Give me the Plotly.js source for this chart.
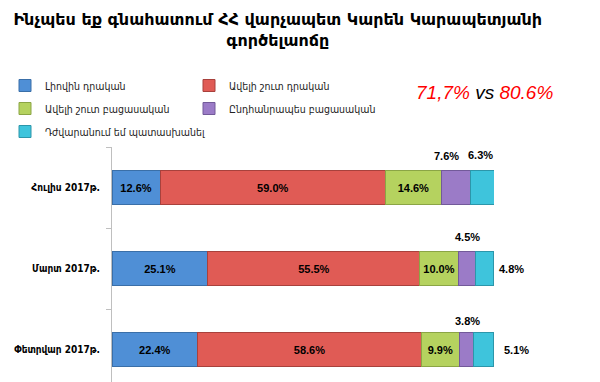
<!DOCTYPE html>
<html>
<head>
<meta charset="utf-8">
<script src="https://cdn.plot.ly/plotly-3.0.1.min.js"></script>
<style>html,body{margin:0;padding:0;background:#fff;}#chart{width:600px;height:382px;}</style>
</head>
<body>
<div id="chart"></div>
<script>
const categories = ["Հուլիս 2017թ.", "Մարտ 2017թ.", "Փետրվար 2017թ."];
const seriesNames = ["Լիովին դրական", "Ավելի շուտ դրական", "Ավելի շուտ բացասական", "Ընդհանրապես բացասական", "Դժվարանում եմ պատասխանել"];
const fullyPositive = [12.6, 25.1, 22.4];
const ratherPositive = [59.0, 55.5, 58.6];
const ratherNegative = [14.6, 10.0, 9.9];
const fullyNegative = [7.6, 4.5, 3.8];
const hardToAnswer = [6.3, 4.8, 5.1];
const titleText = "Ինչպես եք գնահատում ՀՀ վարչապետ Կարեն Կարապետյանի<br>գործելաոճը";
const compareLeft = "71,7%";
const compareRight = "80.6%";

const series = [fullyPositive, ratherPositive, ratherNegative, fullyNegative, hardToAnswer];
const colors = ["#4F8FD6", "#E05B55", "#B5D25F", "#9B7BC7", "#3EC4DC"];
const lineColors = ["#3A6FA8", "#A8413C", "#8BA545", "#725A99", "#2C96AA"];
const legendOf = ["legend", "legend2", "legend", "legend2", "legend"];
const showInside = [true, true, true, false, false];
const labelFont = {family: "Liberation Sans, Arial, sans-serif", size: 11, color: "#000"};

const traces = series.map((vals, i) => ({
  type: "bar",
  orientation: "h",
  name: seriesNames[i],
  y: categories,
  x: vals,
  legend: legendOf[i],
  legendgroup: "g" + i,
  marker: {color: colors[i], line: {color: lineColors[i], width: 1}},
  texttemplate: showInside[i] ? "<b>%{x:.1f}%</b>" : "",
  textposition: showInside[i] ? "inside" : "none",
  insidetextanchor: "middle",
  constraintext: "none",
  textangle: 0,
  textfont: labelFont,
  hoverinfo: "skip"
}));

// outside labels for the two small segments, positioned from the data
const annotations = [];
categories.forEach((cat, j) => {
  const startPurple = fullyPositive[j] + ratherPositive[j] + ratherNegative[j];
  const midPurple = startPurple + fullyNegative[j] / 2;
  const endAll = startPurple + fullyNegative[j] + hardToAnswer[j];
  const midCyan = startPurple + fullyNegative[j] + hardToAnswer[j] / 2;
  annotations.push({
    x: midPurple, y: cat, xref: "x", yref: "y",
    text: "<b>" + fullyNegative[j].toFixed(1) + "%</b>",
    showarrow: false, font: labelFont,
    yshift: j === 2 ? 29 : 32, xshift: j === 0 ? -9 : 1
  });
  if (j === 0) {
    annotations.push({
      x: midCyan, y: cat, xref: "x", yref: "y",
      text: "<b>" + hardToAnswer[j].toFixed(1) + "%</b>",
      showarrow: false, font: labelFont, yshift: 33, xshift: -2
    });
  } else {
    annotations.push({
      x: endAll, y: cat, xref: "x", yref: "y",
      text: "<b>" + hardToAnswer[j].toFixed(1) + "%</b>",
      showarrow: false, font: labelFont, xanchor: "left", xshift: j === 1 ? 3 : 9
    });
  }
});
annotations.push({
  xref: "paper", yref: "paper", x: 0.976, y: 1, xanchor: "center", yanchor: "bottom", yshift: 42,
  text: "<i><span style='color:#FF0000'>" + compareLeft + "</span> vs <span style='color:#FF0000'>" + compareRight + "</span></i>",
  showarrow: false,
  font: {family: "Liberation Sans, Arial, sans-serif", size: 19, color: "#000"}
});

const legendCommon = {
  xref: "paper", yref: "paper", xanchor: "left", yanchor: "top",
  orientation: "v", bgcolor: "rgba(0,0,0,0)", borderwidth: 0,
  font: {family: "DejaVu Sans Condensed, DejaVu Sans, sans-serif", size: 10.5, color: "#222"},
  tracegroupgap: 4, itemwidth: 30, traceorder: "grouped"
};

const layout = {
  width: 600, height: 382,
  paper_bgcolor: "#fff", plot_bgcolor: "#fff",
  margin: {l: 112, r: 106, t: 147, b: 0, pad: 0, autoexpand: false},
  barmode: "stack",
  bargap: 0.58,
  title: {
    text: "<b>" + titleText + "</b>",
    x: 0.463, xanchor: "center", xref: "container",
    y: 0.935, yanchor: "top", yref: "container",
    font: {family: "DejaVu Sans, sans-serif", size: 16, color: "#000"}
  },
  xaxis: {range: [0, 100], visible: false, fixedrange: true},
  yaxis: {
    type: "category", categoryarray: categories, categoryorder: "array",
    range: [2.4, -0.5],
    showline: true, linecolor: "#BFBFBF", linewidth: 1,
    ticks: "outside", ticklen: 5, tickcolor: "#BFBFBF", tickson: "boundaries",
    showgrid: false, zeroline: false,
    tickfont: {family: "DejaVu Sans Condensed, DejaVu Sans, sans-serif", size: 10, color: "#000", weight: "bold"},
    ticklabelstandoff: 9
  },
  showlegend: true,
  legend: Object.assign({}, legendCommon, {x: (5 - 112) / 382, y: 1 + (147 - 71) / 235}),
  legend2: Object.assign({}, legendCommon, {x: (189 - 112) / 382, y: 1 + (147 - 71) / 235}),
  annotations: annotations
};

Plotly.newPlot("chart", traces, layout, {displayModeBar: false, staticPlot: true});
</script>
</body>
</html>
